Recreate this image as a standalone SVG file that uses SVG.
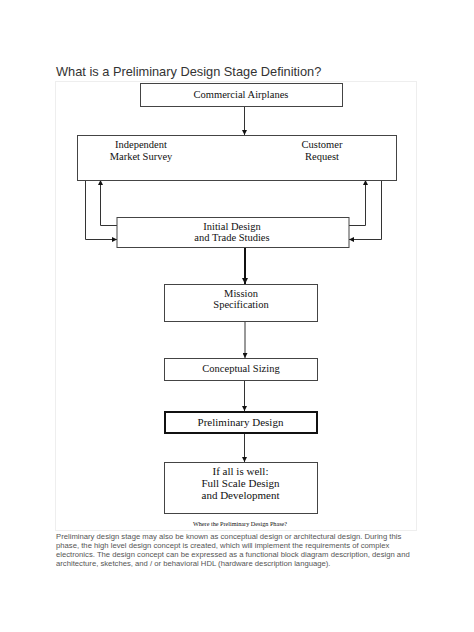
<svg xmlns="http://www.w3.org/2000/svg" width="474" height="632" viewBox="0 0 474 632">
<defs>
<marker id="ah" viewBox="0 0 10 10" refX="10" refY="5" markerWidth="5" markerHeight="5" orient="auto" markerUnits="userSpaceOnUse">
<path d="M0,0 L10,5 L0,10 z" fill="#111"/>
</marker>
<marker id="ahb" viewBox="0 0 10 10" refX="10" refY="5" markerWidth="6" markerHeight="6" orient="auto" markerUnits="userSpaceOnUse">
<path d="M0,0 L10,5 L0,10 z" fill="#111"/>
</marker>
</defs>
<style>
.box{fill:#fff;stroke:#444;stroke-width:1}
.bold{fill:#fff;stroke:#111;stroke-width:2}
.t{font-family:"Liberation Serif","Times New Roman",serif;font-size:10.5px;fill:#111;text-anchor:middle}
.big{font-size:11px}
.cap{font-size:6.2px}
.c{fill:none;stroke:#333;stroke-width:1}
.ct{fill:none;stroke:#111;stroke-width:2}
.body{font-family:"Liberation Sans",Arial,sans-serif;font-size:7.7px;fill:#555}
</style>
<rect width="474" height="632" fill="#fff"/>
<text x="56" y="76" font-family="'Liberation Sans',Arial,sans-serif" font-size="12.8" fill="#333">What is a Preliminary Design Stage Definition?</text>
<rect x="55.5" y="81.5" width="361" height="449" fill="none" stroke="#eeeeee" stroke-width="1"/>
<g id="connectors">
<path class="c" d="M244.5,106 V135" marker-end="url(#ah)"/>
<path class="c" d="M85.5,180 V239.5 H117" marker-end="url(#ah)"/>
<path class="c" d="M117,225.5 H100.5 V180" marker-end="url(#ah)"/>
<path class="c" d="M349,225.5 H365.5 V180" marker-end="url(#ah)"/>
<path class="c" d="M381.5,180 V239.5 H349" marker-end="url(#ah)"/>
<path class="ct" d="M245,247 V284" marker-end="url(#ahb)"/>
<path class="c" d="M245,321 V358" marker-end="url(#ah)"/>
<path class="c" d="M244.5,380 V411" marker-end="url(#ah)"/>
<path class="c" d="M244.5,433 V462" marker-end="url(#ah)"/>
</g>
<g id="commercial">
<rect class="box" x="140.5" y="83.5" width="202" height="23"/>
<text class="t" x="241" y="98">Commercial Airplanes</text>
</g>
<g id="market">
<rect class="box" x="77.5" y="135.5" width="319" height="45"/>
<text class="t" x="141" y="148">Independent</text>
<text class="t" x="141" y="160">Market Survey</text>
<text class="t" x="322" y="148">Customer</text>
<text class="t" x="322" y="160">Request</text>
</g>
<g id="initial">
<rect class="box" x="117" y="217.5" width="232" height="30"/>
<text class="t" x="232" y="230">Initial Design</text>
<text class="t" x="232" y="241">and Trade Studies</text>
</g>
<g id="mission">
<rect class="box" x="164.5" y="284.5" width="153" height="37"/>
<text class="t" x="241" y="297">Mission</text>
<text class="t" x="241" y="308">Specification</text>
</g>
<g id="conceptual">
<rect class="box" x="164.5" y="358.5" width="153" height="22"/>
<text class="t" x="241" y="372">Conceptual Sizing</text>
</g>
<g id="preliminary">
<rect class="bold" x="165" y="412" width="152" height="21"/>
<text class="t big" x="240.5" y="425.5">Preliminary Design</text>
</g>
<g id="fullscale">
<rect class="box" x="164.5" y="462.5" width="153" height="51"/>
<text class="t big" x="240.5" y="475">If all is well:</text>
<text class="t big" x="240.5" y="487">Full Scale Design</text>
<text class="t big" x="240.5" y="498.5">and Development</text>
</g>
<text class="t cap" x="240" y="526">Where the Preliminary Design Phase?</text>
<text class="body" x="56" y="539">Preliminary design stage may also be known as conceptual design or architectural design. During this</text>
<text class="body" x="56" y="548">phase, the high level design concept is created, which will implement the requirements of complex</text>
<text class="body" x="56" y="557">electronics. The design concept can be expressed as a functional block diagram description, design and</text>
<text class="body" x="56" y="566">architecture, sketches, and / or behavioral HDL (hardware description language).</text>
</svg>
